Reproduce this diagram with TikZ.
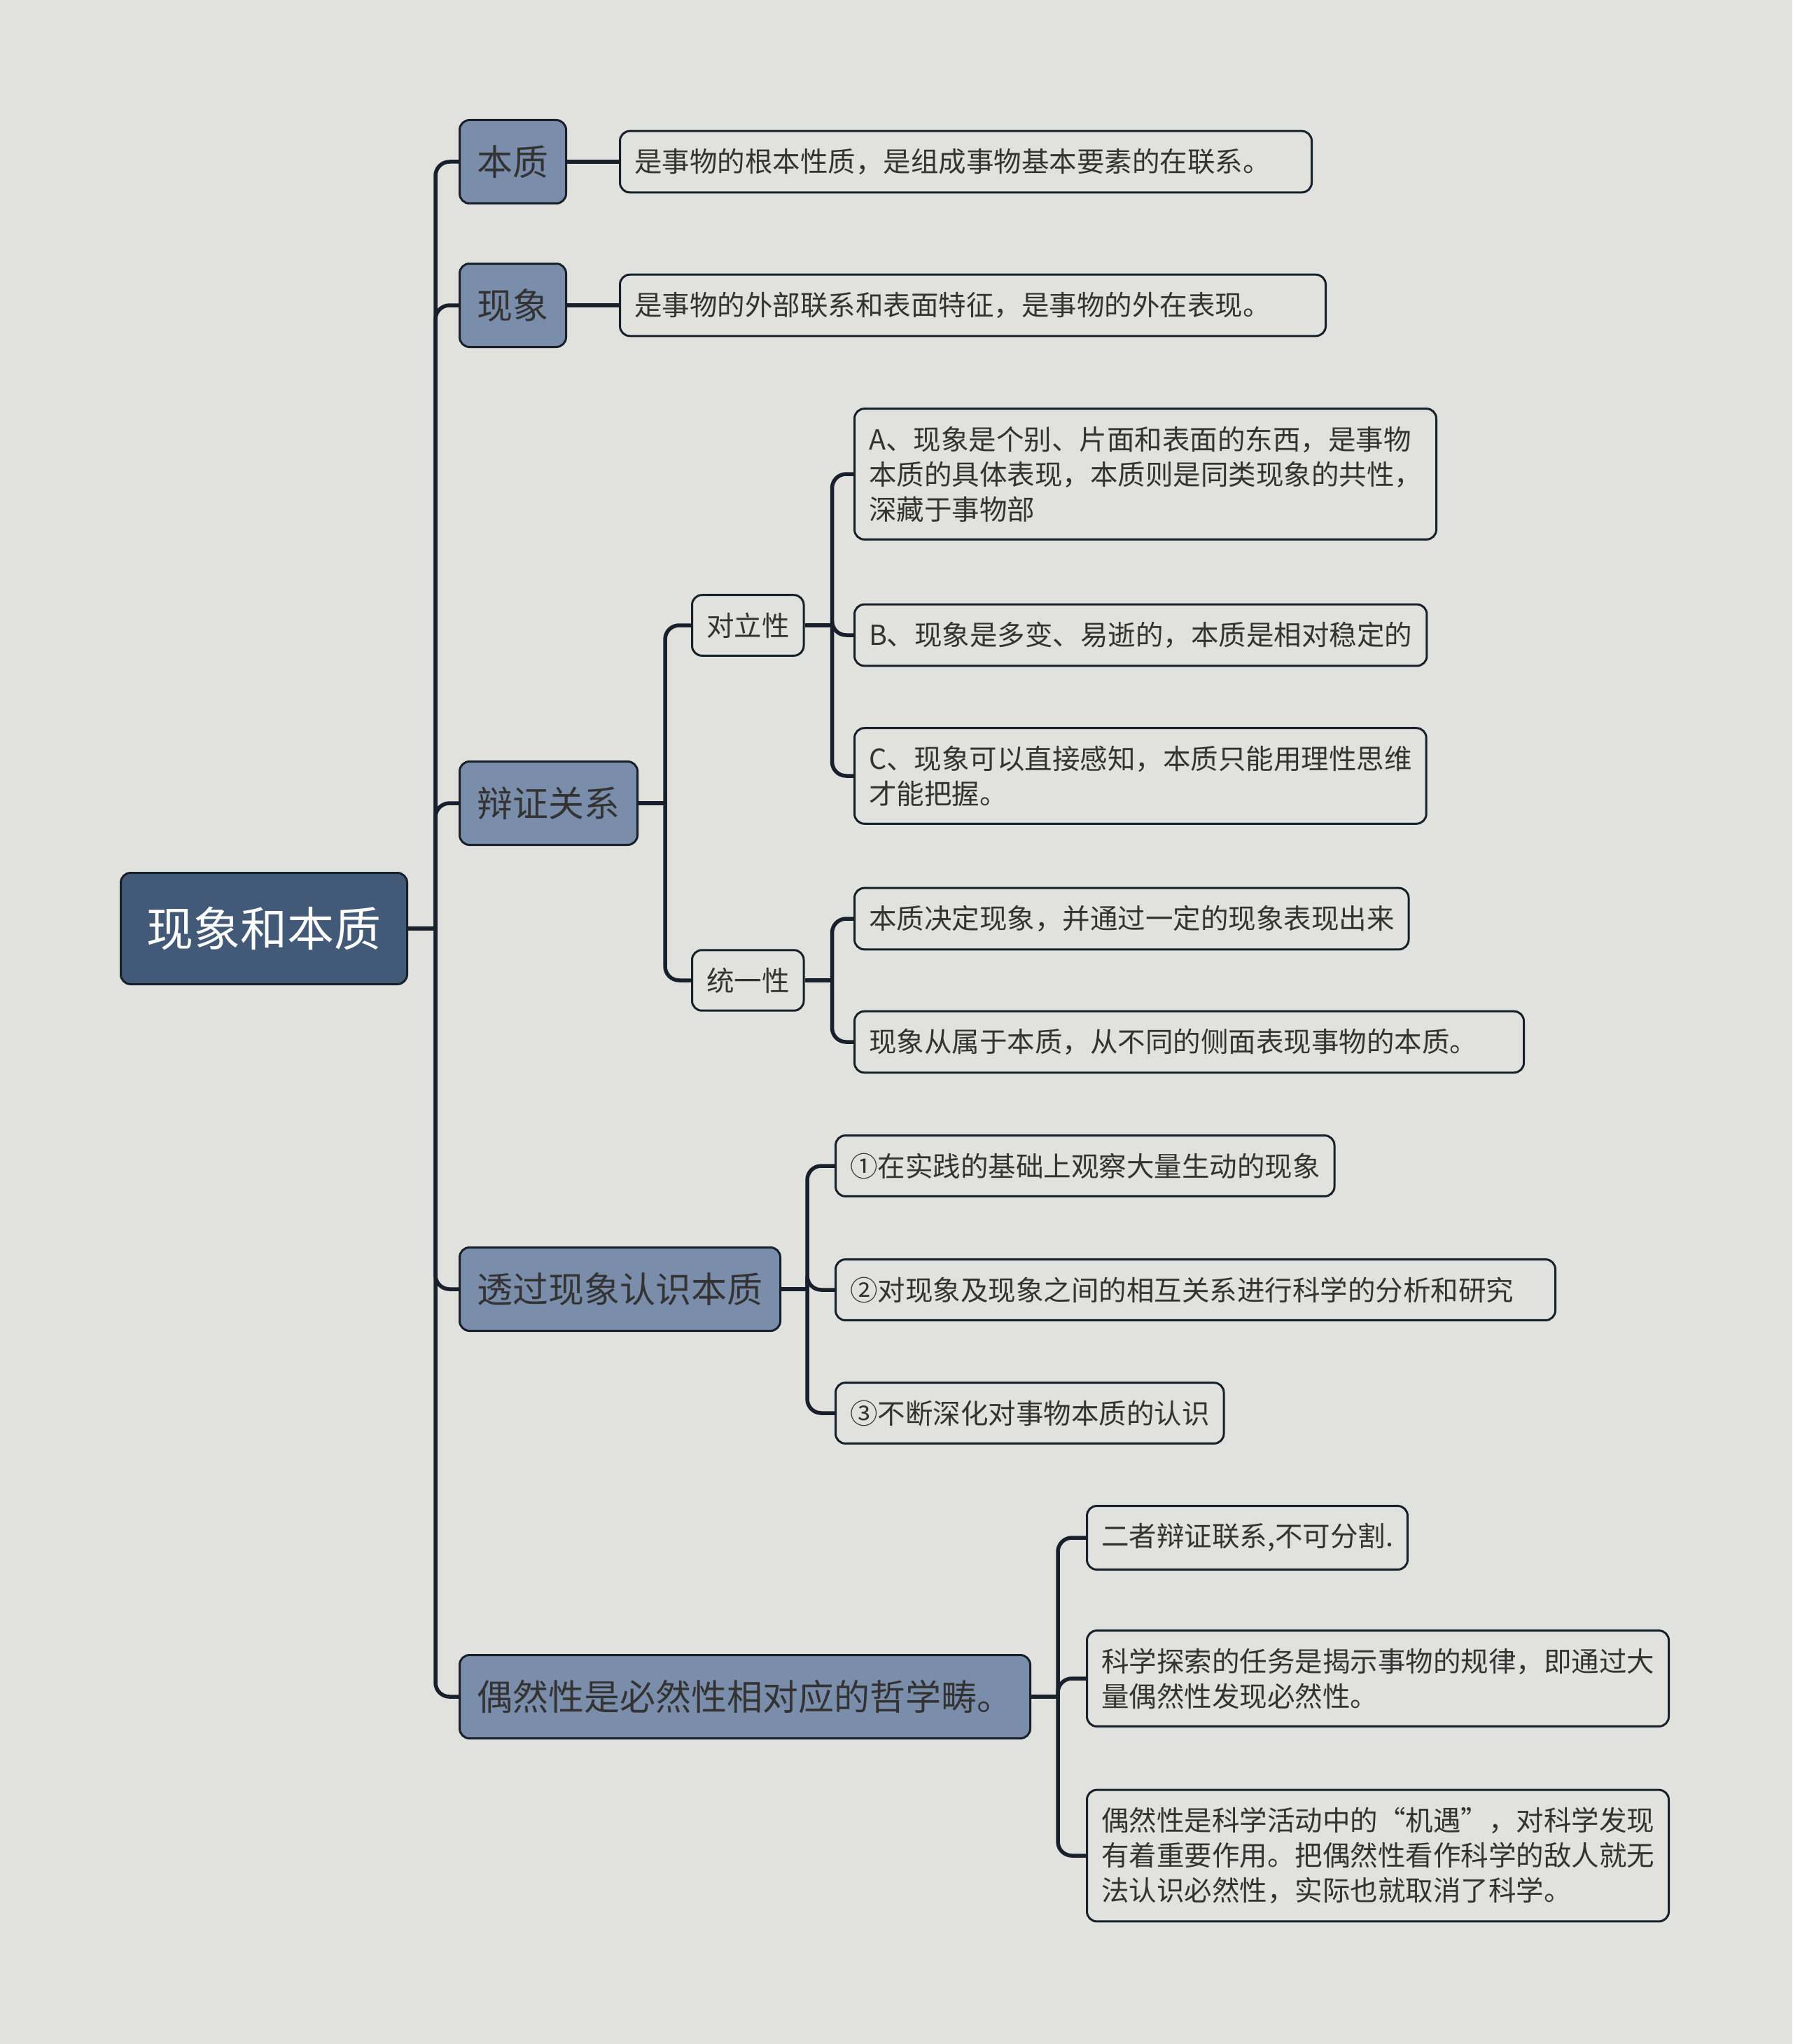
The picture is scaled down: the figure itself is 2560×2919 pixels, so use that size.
\documentclass[tikz,border=0pt]{standalone}
\usepackage{fontspec}
\setmainfont{Noto Sans CJK SC}
\definecolor{paper}{HTML}{E1E2DD}
\definecolor{inkline}{HTML}{18202C}
\definecolor{rootblue}{HTML}{425A78}
\definecolor{topicblue}{HTML}{7A8DAA}
\definecolor{textgray}{HTML}{333333}

\begin{document}
\begin{tikzpicture}[
    x=1pt, y=-1pt,
    rootbox/.style={rectangle, rounded corners=14pt, draw=inkline, line width=3pt,
                    fill=rootblue, text=white, anchor=west, minimum height=159pt,
                    inner xsep=37pt, font=\fontsize{67}{80}\selectfont},
    topic/.style={rectangle, rounded corners=14pt, draw=inkline, line width=3pt,
                  fill=topicblue, text=textgray, anchor=west, minimum height=119pt,
                  inner xsep=25pt, font=\fontsize{51}{60}\selectfont},
    leaf/.style={rectangle, rounded corners=14pt, draw=inkline, line width=3pt,
                 fill=paper, text=textgray, anchor=west, align=left,
                 inner xsep=20.5pt, inner ysep=25pt, font=\fontsize{39.5}{50}\selectfont},
    wide/.style={text width=#1},
    link/.style={draw=inkline, line width=5.5pt},
    elbow/.style={link, rounded corners=20pt}
  ]
    \fill[paper] (0,0) rectangle (2560,2919);
    \useasboundingbox (0,0) rectangle (2560,2919);

    % root and main topics
    \node[rootbox] (root)      at (171,1326) {现象和本质};
    \node[topic]   (benzhi)    at (655,231)  {本质};
    \node[topic]   (xianxiang) at (655,436)  {现象};
    \node[topic]   (bianzheng) at (655,1147) {辩证关系};
    \node[topic]   (touguo)    at (655,1841) {透过现象认识本质};
    \node[topic]   (ouran)     at (655,2423) {偶然性是必然性相对应的哲学畴。};

    % details
    \node[leaf, wide=947pt] (benzhi-def)    at (884,231)  {是事物的根本性质，是组成事物基本要素的在联系。};
    \node[leaf, wide=967pt] (xianxiang-def) at (884,436)  {是事物的外部联系和表面特征，是事物的外在表现。};
    \node[leaf] (duili)         at (987,893)  {对立性};
    \node[leaf] (tongyi)        at (987,1400) {统一性};
    \node[leaf] (duili-a)  at (1219,677)  {A、现象是个别、片面和表面的东西，是事物\\本质的具体表现，本质则是同类现象的共性，\\深藏于事物部};
    \node[leaf] (duili-b)  at (1219,907)  {B、现象是多变、易逝的，本质是相对稳定的};
    \node[leaf] (duili-c)  at (1219,1108) {C、现象可以直接感知，本质只能用理性思维\\才能把握。};
    \node[leaf] (tongyi-a) at (1219,1312) {本质决定现象，并通过一定的现象表现出来};
    \node[leaf, wide=915pt] (tongyi-b) at (1219,1488) {现象从属于本质，从不同的侧面表现事物的本质。};
    \node[leaf] (step1)    at (1192,1665) {①在实践的基础上观察大量生动的现象};
    \node[leaf, wide=987pt] (step2) at (1192,1842) {②对现象及现象之间的相互关系进行科学的分析和研究};
    \node[leaf] (step3)    at (1192,2018) {③不断深化对事物本质的认识};
    \node[leaf] (ouran-a)  at (1551,2196) {二者辩证联系,不可分割.};
    \node[leaf] (ouran-b)  at (1551,2397) {科学探索的任务是揭示事物的规律，即通过大\\量偶然性发现必然性。};
    \node[leaf] (ouran-c)  at (1551,2650) {偶然性是科学活动中的“机遇”，对科学发现\\有着重要作用。把偶然性看作科学的敌人就无\\法认识必然性，实际也就取消了科学。};

    % connectors
    \draw[link] (root.east) -- ++(39,0) coordinate (j-root);
    \foreach \t in {benzhi,xianxiang,bianzheng,touguo,ouran}
      \draw[elbow] (j-root) |- (\t.west);

    \draw[link] (benzhi.east) -- (benzhi-def.west);
    \draw[link] (xianxiang.east) -- (xianxiang-def.west);

    \draw[link] (bianzheng.east) -- ++(38,0) coordinate (j-bz);
    \foreach \t in {duili,tongyi}
      \draw[elbow] (j-bz) |- (\t.west);

    \draw[link] (duili.east) -- ++(39,0) coordinate (j-dl);
    \foreach \t in {duili-a,duili-b,duili-c}
      \draw[elbow] (j-dl) |- (\t.west);

    \draw[link] (tongyi.east) -- ++(39,0) coordinate (j-ty);
    \foreach \t in {tongyi-a,tongyi-b}
      \draw[elbow] (j-ty) |- (\t.west);

    \draw[link] (touguo.east) -- ++(37,0) coordinate (j-tg);
    \foreach \t in {step1,step2,step3}
      \draw[elbow] (j-tg) |- (\t.west);

    \draw[link] (ouran.east) -- ++(38,0) coordinate (j-or);
    \foreach \t in {ouran-a,ouran-b,ouran-c}
      \draw[elbow] (j-or) |- (\t.west);
\end{tikzpicture}
\end{document}
